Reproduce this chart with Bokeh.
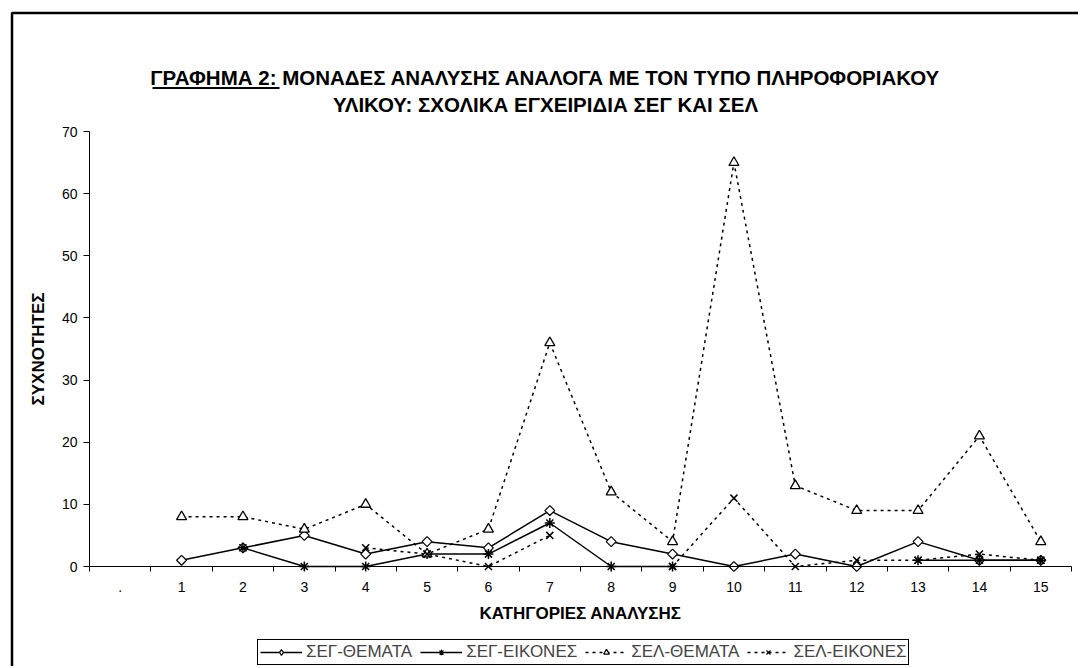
import numpy as np
from bokeh.plotting import figure
from bokeh.models import (Range1d, FixedTicker, Label, Legend, LegendItem, ColumnDataSource, BoxAnnotation)
from bokeh.embed import file_html
from bokeh.resources import INLINE

nan = float("nan")

categories = [".", "1", "2", "3", "4", "5", "6", "7", "8", "9", "10", "11", "12", "13", "14", "15"]
seg_themata = [nan, 1, 3, 5, 2, 4, 3, 9, 4, 2, 0, 2, 0, 4, 1, 1]
seg_eikones = [nan, nan, 3, 0, 0, 2, 2, 7, 0, 0, nan, nan, nan, 1, 1, 1]
sel_themata = [nan, 8, 8, 6, 10, 2, 6, 36, 12, 4, 65, 13, 9, 9, 21, 4]
sel_eikones = [nan, nan, nan, nan, 3, 2, 0, 5, nan, 0, 11, 0, 1, 1, 2, 1]
series_names = ["ΣΕΓ-ΘΕΜΑΤΑ", "ΣΕΓ-ΕΙΚΟΝΕΣ", "ΣΕΛ-ΘΕΜΑΤΑ", "ΣΕΛ-ΕΙΚΟΝΕΣ"]
y_ticks = [0, 10, 20, 30, 40, 50, 60, 70]
y_max = 70

title_line1 = "ΓΡΑΦΗΜΑ 2: ΜΟΝΑΔΕΣ ΑΝΑΛΥΣΗΣ ΑΝΑΛΟΓΑ ΜΕ ΤΟΝ ΤΥΠΟ ΠΛΗΡΟΦΟΡΙΑΚΟΥ"
title_line2 = "ΥΛΙΚΟΥ: ΣΧΟΛΙΚΑ ΕΓΧΕΙΡΙΔΙΑ ΣΕΓ ΚΑΙ ΣΕΛ"
x_title = "ΚΑΤΗΓΟΡΙΕΣ ΑΝΑΛΥΣΗΣ"
y_title = "ΣΥΧΝΟΤΗΤΕΣ"

FONT = "Liberation Sans"
n = len(categories)
xc = [i + 0.5 for i in range(n)]

# Layout (pixels on the canvas): the plot area of the chart
W, H = 1078, 666
PL, PR, PT, PB = 89, 1071, 131, 566          # plot-area edges
kx = (PR - PL) / n
ky = (PB - PT) / y_max

p = figure(width=W, height=H,
           x_range=Range1d(-PL / kx, (W - PL) / kx),
           y_range=Range1d(-(H - PB) / ky, y_max + PT / ky),
           output_backend="svg", toolbar_location=None,
           min_border_left=0, min_border_right=0, min_border_top=0, min_border_bottom=0)
p.outline_line_color = None
p.background_fill_color = "white"
p.border_fill_color = "white"
p.grid.visible = False

xa = p.xaxis[0]
xa.fixed_location = 0
xa.bounds = (0, n)
xa.ticker = FixedTicker(ticks=xc, minor_ticks=list(range(n + 1)))
xa.major_label_overrides = {x: c for x, c in zip(xc, categories)}
xa.major_tick_out = 0
xa.major_tick_in = 0
xa.minor_tick_out = 5
xa.minor_tick_in = 0
xa.minor_tick_line_color = "black"
xa.axis_line_color = "black"
xa.major_label_standoff = 10
xa.major_label_text_font = FONT
xa.major_label_text_font_size = "14px"
xa.major_label_text_color = "black"

ya = p.yaxis[0]
ya.fixed_location = 0
ya.bounds = (0, y_max)
ya.ticker = FixedTicker(ticks=y_ticks, minor_ticks=[])
ya.major_tick_out = 6
ya.major_tick_in = 0
ya.major_tick_line_color = "black"
ya.axis_line_color = "black"
ya.major_label_standoff = 6
ya.major_label_text_font = FONT
ya.major_label_text_font_size = "14px"
ya.major_label_text_color = "black"

src = ColumnDataSource(dict(x=xc, a=seg_themata, b=seg_eikones, c=sel_themata, d=sel_eikones))
leg_src = ColumnDataSource(dict(x=[nan], y=[nan]))

line_specs = [("a", None), ("b", None), ("c", "3 4"), ("d", "3 4")]
chart_markers = [dict(marker="square", angle=np.pi / 4, size=7, fill_color="white", line_width=1.2),
                 dict(marker="asterisk", size=10, line_width=1.5),
                 dict(marker="triangle", size=10, fill_color="white", line_width=1.3),
                 dict(marker="x", size=10, line_width=1.5)]
legend_markers = [dict(marker="diamond", size=10, fill_color="white", line_width=1.2),
                  dict(marker="asterisk", size=9, line_width=1.2),
                  dict(marker="triangle", size=8, fill_color="white", line_width=1.2),
                  dict(marker="x", size=8, line_width=1.2)]

items = []
for (col, dash), cm, lm, name in zip(line_specs, chart_markers, legend_markers, series_names):
    kw = dict(line_dash=dash) if dash else {}
    lr = p.line("x", col, source=src, line_color="black", line_width=1.5, **kw)
    p.scatter("x", col, source=src, line_color="black", **cm)
    mr = p.scatter("x", "y", source=leg_src, line_color="black", **lm)
    items.append(LegendItem(label=name, renderers=[lr, mr]))

legend = Legend(items=items, orientation="horizontal", location=(257, H - 665),
                border_line_color="black", border_line_width=1, border_line_alpha=1,
                background_fill_color="white", background_fill_alpha=1,
                padding=2, spacing=8, margin=0, glyph_width=42, glyph_height=14,
                label_standoff=4, label_text_font=FONT, label_text_font_size="17px",
                label_height=16)
p.add_layout(legend)

def lab(text, x, y, size, angle=0.0):
    return Label(x=x, y=H - y, x_units="screen", y_units="screen", text=text, angle=angle,
                 text_align="center", text_baseline="middle", text_font=FONT,
                 text_font_style="bold", text_font_size=size, text_color="black")

p.add_layout(lab(title_line1, 545, 77, "20.5px"))
p.add_layout(lab(title_line2, 545, 104, "20.5px"))
p.add_layout(lab(x_title, (PL + PR) / 2, 613, "17px"))
p.add_layout(lab(y_title, 38, (PT + PB) / 2, "17px", angle=np.pi / 2))

underline = BoxAnnotation(left=152, right=279, top=H - 86.5, bottom=H - 88.5,
                          left_units="screen", right_units="screen",
                          top_units="screen", bottom_units="screen",
                          fill_color="black", fill_alpha=1, line_color=None)
p.add_layout(underline)

border = BoxAnnotation(left=11.5, right=W + 50, top=H - 12.5, bottom=-50,
                       left_units="screen", right_units="screen",
                       top_units="screen", bottom_units="screen",
                       fill_alpha=0, line_color="black", line_alpha=1, line_width=2.5)
p.add_layout(border)

open("out.html", "w").write(file_html(p, INLINE))
